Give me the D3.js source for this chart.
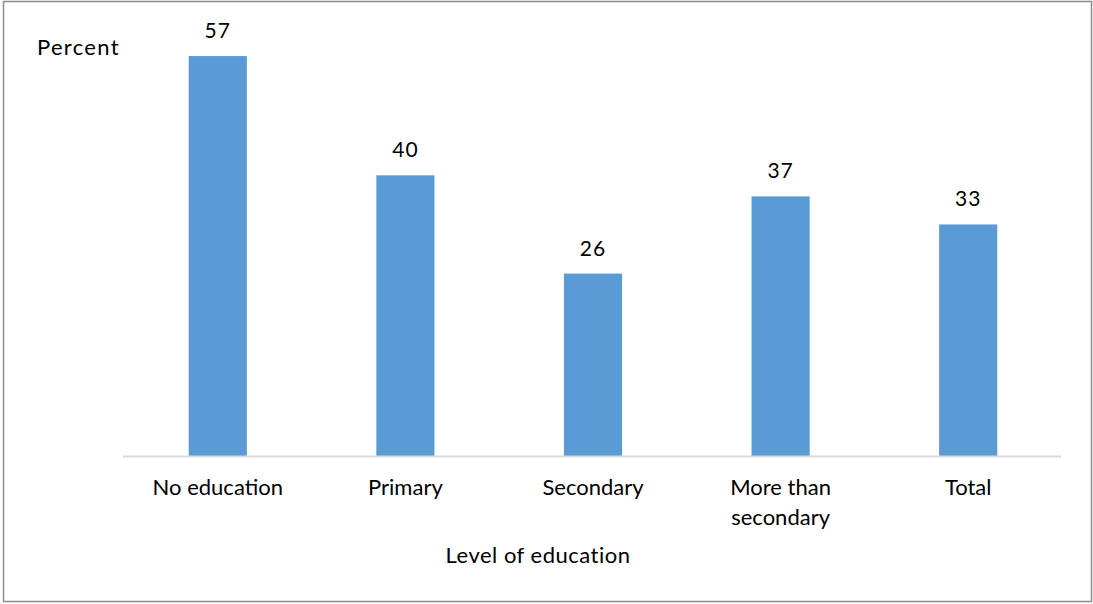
<!DOCTYPE html>
<html>
<head>
<meta charset="utf-8">
<script src="https://cdn.jsdelivr.net/npm/d3@7"></script>
<style>
  body { margin: 0; background: #fff; }
  text { font-family: Lato, "Open Sans", sans-serif; fill: #000; }
</style>
</head>
<body>
<svg id="chart" width="1093" height="604"></svg>
<script>
// categories and values
var categories = [["No education"], ["Primary"], ["Secondary"], ["More than", "secondary"], ["Total"]];
var values = [57, 40, 26, 37, 33];
var yLabel = "Percent";
var xLabel = "Level of education";

var svg = d3.select("#chart");

// outer frame
svg.append("rect")
  .attr("x", 3.5).attr("y", 1.5)
  .attr("width", 1088).attr("height", 600)
  .attr("fill", "none")
  .attr("stroke", "#8c8c8c")
  .attr("stroke-width", 1.5);

var x = d3.scaleBand()
  .domain(d3.range(values.length))
  .range([124, 1062])
  .paddingInner(0.69)
  .paddingOuter(0.345);

var y = d3.scaleLinear()
  .domain([0, 60])
  .range([456, 35]);

// bars
svg.selectAll("rect.bar")
  .data(values)
  .enter().append("rect")
  .attr("class", "bar")
  .attr("x", function(d, i) { return x(i); })
  .attr("y", function(d) { return y(d); })
  .attr("width", x.bandwidth())
  .attr("height", function(d) { return y(0) - y(d); })
  .attr("fill", "#5b9bd5");

// baseline
svg.append("line")
  .attr("x1", 123).attr("x2", 1061)
  .attr("y1", y(0) + 0.5).attr("y2", y(0) + 0.5)
  .attr("stroke", "#d9d9d9")
  .attr("stroke-width", 2);

// value labels
svg.selectAll("text.val")
  .data(values)
  .enter().append("text")
  .attr("class", "val")
  .attr("x", function(d, i) { return x(i) + x.bandwidth() / 2; })
  .attr("y", function(d) { return y(d) - 18; })
  .attr("text-anchor", "middle")
  .style("font-size", "21px")
  .style("letter-spacing", "1px")
  .text(function(d) { return d; });

// category labels
var cat = svg.selectAll("text.cat")
  .data(categories)
  .enter().append("text")
  .attr("class", "cat")
  .attr("text-anchor", "middle")
  .attr("x", function(d, i) { return x(i) + x.bandwidth() / 2; })
  .attr("y", 495)
  .style("font-size", "22px");

cat.selectAll("tspan")
  .data(function(d) { return d; })
  .enter().append("tspan")
  .attr("x", function() { return d3.select(this.parentNode).attr("x"); })
  .attr("dy", function(d, j) { return j === 0 ? 0 : 30; })
  .text(function(d) { return d; });

// axis titles
svg.append("text")
  .attr("x", 37).attr("y", 55)
  .style("font-size", "22px")
  .style("letter-spacing", "1.3px")
  .text(yLabel);

svg.append("text")
  .attr("x", 538).attr("y", 563)
  .attr("text-anchor", "middle")
  .style("font-size", "22px")
  .style("letter-spacing", "0.5px")
  .text(xLabel);
</script>
</body>
</html>
